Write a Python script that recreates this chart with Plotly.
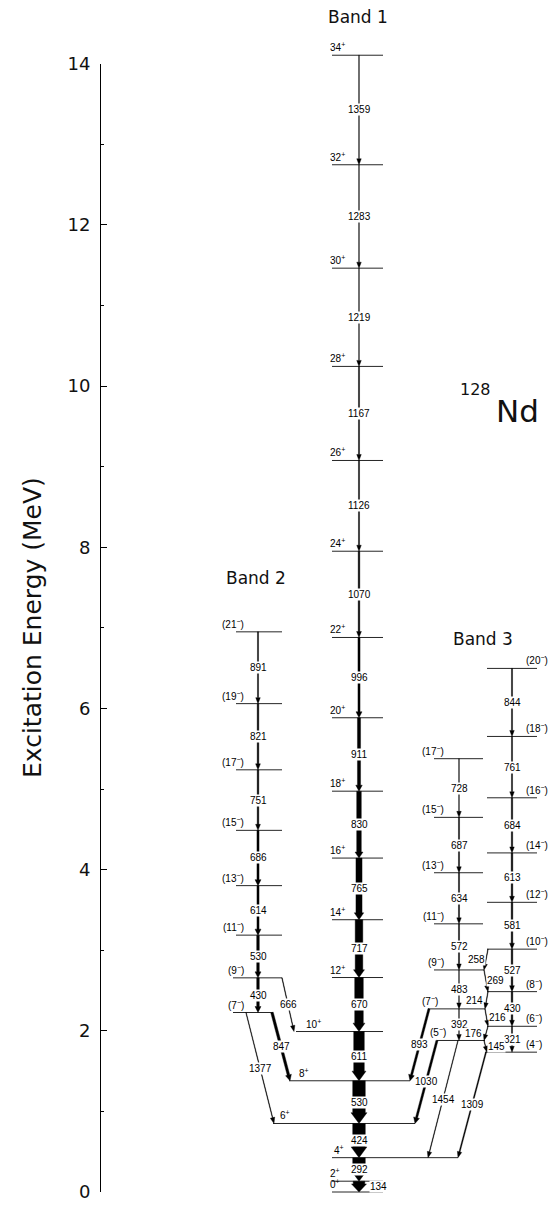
import math
import plotly.graph_objects as go

# ---------------- data (energies in keV) ----------------
b1_spins = ["0+", "2+", "4+", "6+", "8+", "10+", "12+", "14+", "16+", "18+", "20+",
            "22+", "24+", "26+", "28+", "30+", "32+", "34+"]
b1_energy = [0, 134, 426, 850, 1380, 1991, 2661, 3378, 4143, 4973, 5884,
             6880, 7950, 9076, 10243, 11462, 12745, 14104]
b1_gamma = [134, 292, 424, 530, 611, 670, 717, 765, 830, 911, 996,
            1070, 1126, 1167, 1219, 1283, 1359]

b2_spins = ["(7-)", "(9-)", "(11-)", "(13-)", "(15-)", "(17-)", "(19-)", "(21-)"]
b2_energy = [2227, 2657, 3187, 3801, 4487, 5238, 6059, 6950]
b2_gamma = [430, 530, 614, 686, 751, 821, 891]

b3a_spins = ["(5-)", "(7-)", "(9-)", "(11-)", "(13-)", "(15-)", "(17-)"]
b3a_energy = [1880, 2272, 2755, 3327, 3961, 4648, 5376]
b3a_gamma = [392, 483, 572, 634, 687, 728]

b3b_spins = ["(4-)", "(6-)", "(8-)", "(10-)", "(12-)", "(14-)", "(16-)", "(18-)", "(20-)"]
b3b_energy = [1735, 2056, 2486, 3013, 3594, 4207, 4891, 5652, 6496]
b3b_gamma = [321, 430, 527, 581, 613, 684, 761, 844]

link_gamma = [666, 847, 1377, 893, 1030, 1454, 1309, 258, 269, 214, 216, 176, 145]
link_from = [("b2", "(9-)"), ("b2", "(7-)"), ("b2", "(7-)"), ("b3a", "(7-)"), ("b3a", "(5-)"),
             ("b3a", "(5-)"), ("b3b", "(4-)"), ("b3b", "(10-)"), ("b3a", "(9-)"), ("b3b", "(8-)"),
             ("b3a", "(7-)"), ("b3b", "(6-)"), ("b3a", "(5-)")]
link_to = [("b1", "10+"), ("b1", "8+"), ("b1", "6+"), ("b1", "8+"), ("b1", "6+"),
           ("b1", "4+"), ("b1", "4+"), ("b3a", "(9-)"), ("b3b", "(8-)"), ("b3a", "(7-)"),
           ("b3b", "(6-)"), ("b3a", "(5-)"), ("b3b", "(4-)")]

axis_ticks = [0, 2, 4, 6, 8, 10, 12, 14]

# ---------------- layout / style ----------------
W, H = 548, 1205
Y0, PX = 1192.0, 80.6        # pixel row of 0 MeV, pixels per MeV
FONT = "Liberation Sans"
TFONT = "DejaVu Sans"

col_x = {"b1": 359, "b2": 258, "b3a": 459, "b3b": 512}
line_ext = {"b1": (332, 383), "b2": (236, 282), "b3a": (434, 483), "b3b": (487, 537)}
line_ext_over = {("b1", "4+"): (332, 458), ("b1", "6+"): (273, 415), ("b1", "8+"): (289, 410),
                 ("b1", "10+"): (296, 383), ("b2", "(7-)"): (233, 273), ("b2", "(9-)"): (233, 282),
                 ("b3a", "(7-)"): (428, 485), ("b3a", "(5-)"): (437, 485), ("b3a", "(9-)"): (434, 484),
                 ("b3b", "(4-)"): (485, 537)}
# spin label anchor: (x, xanchor)
spin_lab = {"b1": (328, "left"), "b2": (246, "right"), "b3a": (446, "right"), "b3b": (524, "left")}
spin_lab_over = {("b1", "6+"): (278, "left"), ("b1", "8+"): (297, "left"), ("b1", "10+"): (304, "left"),
                 ("b1", "4+"): (332, "left"), ("b3a", "(7-)"): (440, "right"), ("b3a", "(5-)"): (448, "right")}

b1_w = [12, 13, 13, 13, 11, 9, 8, 6.5, 5, 3.5, 2.5, 2, 1.5, 1.5, 1, 1, 1]
b2_w = [3, 3, 2.5, 2.5, 2, 2, 1.5]
b3a_w = [1, 1, 1.5, 1.5, 1.5, 1]
b3b_w = [1.5, 2, 2, 2, 2, 1.8, 1.5, 1.5]
link_w = [1, 3, 1, 2.5, 2.5, 1, 1.5, 1, 1, 1, 1, 1, 1]
link_x = [(282, 294), (272, 290), (246, 274), (429, 410), (437, 415), (458, 428), (486, 458),
          (488, 484), (484, 488), (488, 485), (485, 488), (488, 484), (484, 487)]
link_lab_dx = [0, 0, 0, 0, 0, 0, 0, -10, 9, -12, 11, -13, 11]


def ypx(e_kev):
    return Y0 - e_kev / 1000.0 * PX


def mev(y):
    return (Y0 - y) / PX


def supfmt(s):
    sign = s[-1] if s[-1] in "+-" else s[-2]
    mark = "+" if sign == "+" else "−"
    if s.startswith("("):
        return "(" + s[1:-2] + "<sup>" + mark + "</sup>)"
    return s[:-1] + "<sup>" + mark + "</sup>"


levels = {}
for key, spins, energies in [("b1", b1_spins, b1_energy), ("b2", b2_spins, b2_energy),
                             ("b3a", b3a_spins, b3a_energy), ("b3b", b3b_spins, b3b_energy)]:
    for s, e in zip(spins, energies):
        levels[(key, s)] = e

shapes = []
annotations = []

# level lines + spin labels
for (key, s), e in levels.items():
    x0, x1 = line_ext_over.get((key, s), line_ext[key])
    shapes.append(dict(type="line", xref="x", yref="y", x0=x0, x1=x1, y0=e / 1000, y1=e / 1000,
                       line=dict(color="#262626", width=1)))
    lx, la = spin_lab_over.get((key, s), spin_lab[key])
    annotations.append(dict(x=lx, y=e / 1000, xref="x", yref="y", text=supfmt(s), showarrow=False,
                            xanchor=la, yanchor="bottom", yshift=0,
                            font=dict(family=FONT, size=10, color="black")))


def arrow(xa, ea, xb, eb, w):
    x1, y1 = xa, ypx(ea)
    x2, y2 = xb, ypx(eb)
    dx, dy = x2 - x1, y2 - y1
    L = math.hypot(dx, dy)
    ux, uy = dx / L, dy / L
    nx, ny = -uy, ux
    hw = w + 3 if w >= 3 else max(4.5, w * 2.4)
    hl = min(max(6.0, 0.6 * w + 3), L * 0.75)
    bx, by = x2 - ux * hl, y2 - uy * hl
    ws = max(w - 0.4, 0.4) / 2
    pts = [(x1 + nx * ws, y1 + ny * ws), (bx + nx * ws, by + ny * ws), (bx + nx * hw / 2, by + ny * hw / 2),
           (x2, y2), (bx - nx * hw / 2, by - ny * hw / 2), (bx - nx * ws, by - ny * ws),
           (x1 - nx * ws, y1 - ny * ws)]
    path = "M " + " L ".join(f"{px:.2f},{mev(py):.5f}" for px, py in pts) + " Z"
    shapes.append(dict(type="path", xref="x", yref="y", path=path, fillcolor="black",
                       line=dict(color="black", width=0.4)))
    return (x1 + x2) / 2, (ea + eb) / 2


def label(x, e, text, dx=0):
    annotations.append(dict(x=x + dx, y=e / 1000, xref="x", yref="y", text=str(text), showarrow=False,
                            xanchor="center", yanchor="middle", bgcolor="white", borderpad=0,
                            font=dict(family=FONT, size=10, color="black")))


# in-band transitions
for key, spins, energies, gam, ws in [("b1", b1_spins, b1_energy, b1_gamma, b1_w),
                                      ("b2", b2_spins, b2_energy, b2_gamma, b2_w),
                                      ("b3a", b3a_spins, b3a_energy, b3a_gamma, b3a_w),
                                      ("b3b", b3b_spins, b3b_energy, b3b_gamma, b3b_w)]:
    x = col_x[key]
    for i, g in enumerate(gam):
        mx, me = arrow(x, energies[i + 1], x, energies[i], ws[i])
        if key == "b1" and g == 134:
            label(x, me, g, dx=19)
        else:
            label(mx, me, g)

# inter-band transitions
for g, fr, to, (xa, xb), w, ldx in zip(link_gamma, link_from, link_to, link_x, link_w, link_lab_dx):
    mx, me = arrow(xa, levels[fr], xb, levels[to], w)
    label(mx, me, g, dx=ldx)

# titles
for txt, x, y, sz in [("Band 1", 358, 17, 17), ("Band 2", 256, 578, 17), ("Band 3", 483, 639, 17),
                      ("128", 475, 390, 16), ("Nd", 517, 411, 31)]:
    annotations.append(dict(x=x / W, y=1 - y / H, xref="paper", yref="paper", text=txt, showarrow=False,
                            xanchor="center", yanchor="middle", font=dict(family=TFONT, size=sz, color="#111")))

annotations.append(dict(x=32 / W, y=1 - 628 / H, xref="paper", yref="paper", text="Excitation Energy (MeV)",
                        showarrow=False, textangle=-90, xanchor="center", yanchor="middle",
                        font=dict(family=TFONT, size=25, color="#111")))

fig = go.Figure()
fig.add_trace(go.Scatter(x=[0], y=[0], mode="markers", marker=dict(opacity=0), showlegend=False,
                         hoverinfo="skip"))
fig.add_trace(go.Scatter(x=[0], y=[0], xaxis="x2", yaxis="y2", mode="markers", marker=dict(opacity=0),
                         showlegend=False, hoverinfo="skip"))

fig.update_layout(
    width=W, height=H, margin=dict(l=0, r=0, t=0, b=0, pad=0, autoexpand=False),
    paper_bgcolor="white", plot_bgcolor="rgba(0,0,0,0)",
    xaxis=dict(range=[0, W], domain=[0, 1], visible=False, fixedrange=True),
    yaxis=dict(range=[mev(H), mev(0)], domain=[0, 1], visible=False, fixedrange=True),
    xaxis2=dict(domain=[101 / W, 103 / W], visible=False, anchor="y2", range=[0, 1]),
    yaxis2=dict(domain=[(H - Y0) / H, (H - (Y0 - 14 * PX)) / H], range=[0, 14], anchor="x2",
                showline=True, linecolor="black", linewidth=1, ticks="inside", ticklen=6,
                tickwidth=1, tickcolor="black", tickvals=axis_ticks, ticktext=[str(v) for v in axis_ticks],
                showgrid=False, zeroline=False, ticklabelstandoff=6,
                tickfont=dict(family=TFONT, size=18, color="#111"),
                minor=dict(ticks="inside", ticklen=3, dtick=1, tickcolor="black", tickwidth=1,
                           showgrid=False)),
    shapes=shapes, annotations=annotations, showlegend=False,
)

fig.write_html("out.html", config={"responsive": False, "displayModeBar": False},
               post_script="document.body.style.margin='0';document.body.style.overflow='hidden';")
